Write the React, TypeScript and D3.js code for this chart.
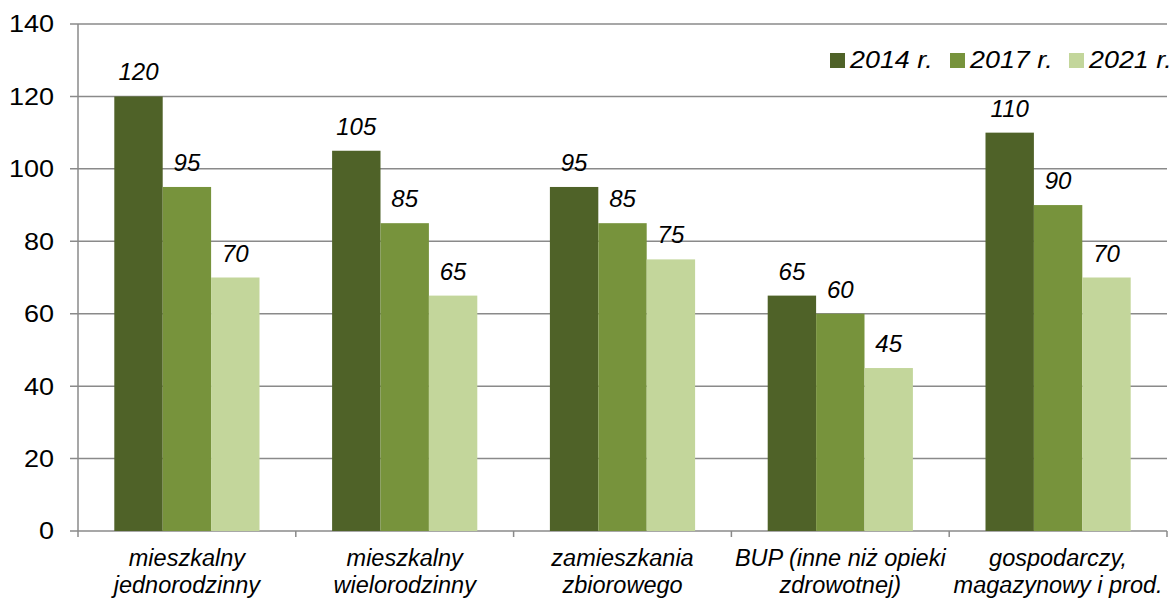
import React from "react";
import * as d3 from "d3";

const categories: string[][] = [
  ["mieszkalny", "jednorodzinny"],
  ["mieszkalny", "wielorodzinny"],
  ["zamieszkania", "zbiorowego"],
  ["BUP (inne niż opieki", "zdrowotnej)"],
  ["gospodarczy,", "magazynowy i prod."],
];

const seriesNames: string[] = ["2014 r.", "2017 r.", "2021 r."];
const values2014: number[] = [120, 105, 95, 65, 110];
const values2017: number[] = [95, 85, 85, 60, 90];
const values2021: number[] = [70, 65, 75, 45, 70];
const yTicks: number[] = [0, 20, 40, 60, 80, 100, 120, 140];

const colors = ["#4f6228", "#77933c", "#c3d69b"];
const series = [values2014, values2017, values2021];

const settings = {
  width: 1173,
  height: 598,
  margin: { top: 24, right: 6, bottom: 67, left: 78 },
};

export default function App() {
  const { width, height, margin } = settings;
  const plotRight = width - margin.right;
  const plotBottom = height - margin.bottom;

  const y = d3.scaleLinear().domain([0, 140]).range([plotBottom, margin.top]);

  const x0 = d3
    .scaleBand<number>()
    .domain(categories.map((_, i) => i))
    .range([margin.left, plotRight])
    .padding(0);

  const bw = x0.bandwidth();
  // excel-like gap width of 150%
  const gap = (bw * 1.5) / 4.5 / 2;
  const x1 = d3
    .scaleBand<number>()
    .domain(seriesNames.map((_, i) => i))
    .range([gap, bw - gap])
    .padding(0);

  const font = "'Liberation Sans', Arial, sans-serif";
  const gridColor = "#8a8a8a";

  return (
    <svg
      width={width}
      height={height}
      style={{ position: "absolute", left: 0, top: 0, background: "#fff" }}
      fontFamily={font}
    >
      {/* grid lines + y ticks */}
      {yTicks.map((t) => (
        <g key={t}>
          <line
            x1={margin.left - 8}
            x2={plotRight}
            y1={y(t)}
            y2={y(t)}
            stroke={gridColor}
            strokeWidth={1.5}
          />
          <g transform={`translate(54,${y(t)}) scale(1.15,1)`}>
            <text dy="0.36em" textAnchor="end" fontSize={23.5} fill="#000">
              {t}
            </text>
          </g>
        </g>
      ))}

      {/* bars */}
      {categories.map((_, ci) =>
        series.map((vals, si) => (
          <rect
            key={`${ci}-${si}`}
            x={(x0(ci) ?? 0) + (x1(si) ?? 0)}
            y={y(vals[ci])}
            width={x1.bandwidth()}
            height={y(0) - y(vals[ci])}
            fill={colors[si]}
          />
        ))
      )}

      {/* data labels */}
      {categories.map((_, ci) =>
        series.map((vals, si) => (
          <text
            key={`l-${ci}-${si}`}
            x={(x0(ci) ?? 0) + (x1(si) ?? 0) + x1.bandwidth() / 2}
            y={y(vals[ci]) - 16}
            textAnchor="middle"
            fontSize={24}
            fontStyle="italic"
            fill="#000"
          >
            {vals[ci]}
          </text>
        ))
      )}

      {/* axis lines */}
      <line
        x1={margin.left}
        x2={margin.left}
        y1={margin.top}
        y2={plotBottom + 6}
        stroke={gridColor}
        strokeWidth={1.5}
      />
      {categories.map((_, ci) => (
        <line
          key={`t-${ci}`}
          x1={(x0(ci) ?? 0) + bw}
          x2={(x0(ci) ?? 0) + bw}
          y1={plotBottom}
          y2={plotBottom + 6}
          stroke={gridColor}
          strokeWidth={1.5}
        />
      ))}

      {/* category labels */}
      {categories.map((lines, ci) => (
        <text
          key={`c-${ci}`}
          x={(x0(ci) ?? 0) + bw / 2}
          y={566}
          textAnchor="middle"
          fontSize={23.5}
          fontStyle="italic"
          fill="#000"
        >
          {lines.map((ln, li) => (
            <tspan key={li} x={(x0(ci) ?? 0) + bw / 2} dy={li === 0 ? 0 : 27}>
              {ln}
            </tspan>
          ))}
        </text>
      ))}

      {/* legend */}
      {seriesNames.map((name, si) => {
        const lx = [830, 950, 1069][si];
        return (
          <g key={name}>
            <rect x={lx} y={53} width={15} height={15} fill={colors[si]} />
            <g transform={`translate(${lx + 20},68) scale(1.12,1)`}>
              <text fontSize={24} fontStyle="italic" fill="#000">
                {name}
              </text>
            </g>
          </g>
        );
      })}
    </svg>
  );
}
